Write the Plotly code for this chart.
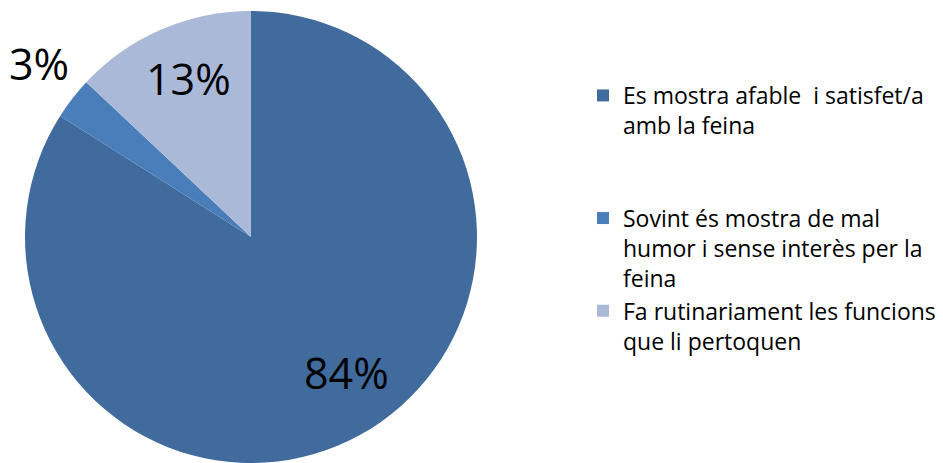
import plotly.graph_objects as go

# Staff attitude survey: share of responses per category
categories = [
    "Es mostra afable  i satisfet/a<br>amb la feina<br> <br> ",
    "Sovint és mostra de mal<br>humor i sense interès per la<br>feina",
    "Fa rutinariament les funcions<br>que li pertoquen",
]
values = [84, 3, 13]
colors = ["#406B9C", "#4A7EBB", "#AAB9D7"]

W, H = 943, 463

# percentage label anchor points (pixels from top-left)
label_xy = [(346, 372), (39, 63), (188, 78)]

fig = go.Figure(
    go.Pie(
        labels=categories,
        values=values,
        sort=False,
        direction="clockwise",
        rotation=0,
        marker=dict(colors=colors, line=dict(width=0)),
        textinfo="none",
        showlegend=True,
        domain=dict(x=[25 / W, 477 / W], y=[0, 452 / H]),
        hoverinfo="skip",
    )
)

total = sum(values)
for v, (px, py) in zip(values, label_xy):
    fig.add_annotation(
        x=px / W,
        y=1 - py / H,
        xref="paper",
        yref="paper",
        xanchor="center",
        yanchor="middle",
        text=f"{round(100 * v / total)}%",
        showarrow=False,
        font=dict(family="Open Sans", size=43, color="black"),
    )

fig.update_layout(
    width=W,
    height=H,
    margin=dict(l=0, r=0, t=0, b=0),
    paper_bgcolor="white",
    plot_bgcolor="white",
    font=dict(family="Open Sans", size=23, color="black"),
    legend=dict(
        x=583 / W,
        y=1 - 74 / H,
        xanchor="left",
        yanchor="top",
        valign="top",
        font=dict(family="Open Sans", size=23, color="black"),
        bgcolor="rgba(0,0,0,0)",
    ),
)

fig.write_html("out.html")
